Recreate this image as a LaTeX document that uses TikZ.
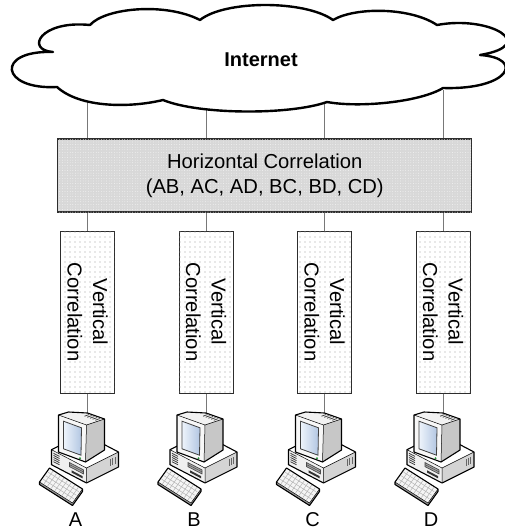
\documentclass[tikz,border=0pt]{standalone}
\usepackage{fontspec}
\setmainfont{Liberation Sans}
\usetikzlibrary{patterns.meta,calc}

\definecolor{wire}{RGB}{120,120,120}
\definecolor{boxline}{RGB}{45,45,45}
\definecolor{hfill}{RGB}{216,216,216}
\definecolor{scrA}{RGB}{238,244,251}
\definecolor{scrB}{RGB}{178,198,226}
\definecolor{led}{RGB}{40,150,60}

\tikzset{
  x=1pt, y=-1pt,
  wire/.style={draw=wire, line width=1pt},
  lbl/.style={font=\fontsize{20}{25}\selectfont, inner sep=0pt},
  hbox/.style={draw=boxline, line width=1.1pt, fill=hfill,
    postaction={pattern={Dots[distance=2.6pt, radius=0.45pt]}, pattern color=white!96!black},
    minimum width=414pt, minimum height=73pt, inner sep=0pt, align=center,
    font=\fontsize{20.2}{25}\selectfont},
  vbox/.style={draw=boxline, line width=1pt, fill=white,
    postaction={pattern={Dots[distance=5pt, radius=0.55pt]}, pattern color=black!38},
    rotate=-90, minimum width=162pt, minimum height=54pt, inner sep=0pt,
    align=center, font=\fontsize{20.2}{25.5}\selectfont},
  cloudline/.style={draw=black, line width=2.4pt, fill=white, line join=round},
  pcline/.style={draw=black, line width=1.1pt, line join=round},
  pcthin/.style={draw=black, line width=0.5pt},
  pc/.pic={
    % desktop case
    \fill[black!6] (-36,36.7) -- (-1,55) -- (-1,70) -- (-36,51.7) -- cycle;
    \fill[black!17] (-1,55) -- (31,39) -- (31,54) -- (-1,70) -- cycle;
    \fill[white] (-36,36.7) -- (-4,20.7) -- (31,39) -- (-1,55) -- cycle;
    \foreach \k in {0,...,4}
      \draw[black!75, line width=0.8pt] (-34,{40.3+2.1*\k}) -- (-28,{43.4+2.1*\k});
    \draw[black!70, line width=0.7pt, fill=black!35]
      (-18,49.6) -- (-4,56.9) -- (-4,60.9) -- (-18,53.6) -- cycle;
    \draw[black!70, line width=0.5pt] (-18,51.6) -- (-4,58.9);
    \fill[black!80] (-16,57.3) -- (-5,63.1) -- (-5,65.3) -- (-16,59.5) -- cycle;
    \foreach \k in {0,...,2}
      \draw[black!60, line width=0.7pt] ({23+2.2*\k},{46-1.1*\k}) -- ({23+2.2*\k},{53-1.1*\k});
    \draw[pcthin] (-36,36.7) -- (-1,55) -- (31,39) (-1,55) -- (-1,70);
    \draw[pcline] (-36,36.7) -- (-4,20.7) -- (31,39) -- (31,54) -- (-1,70) -- (-36,51.7) -- cycle;
    % monitor
    \fill[black!22] (-1,12) -- (17,6) -- (17,37) -- (-2,49) -- cycle;
    \fill[black!5] (-29,2) -- (-19,-1) -- (0,0) -- (17,6) -- (-1,12) -- cycle;
    \fill[black!3] (-29,2) -- (-1,12) -- (-2,49) -- (-29,39) -- cycle;
    \shade[left color=scrA, right color=scrB, draw=black!75, line width=0.8pt]
      (-24,8.2) -- (-6,14.8) -- (-6.5,42.2) -- (-24,35.8) -- cycle;
    \foreach \k in {0,...,4}
      \draw[black!75, line width=0.8pt] ({1.5+2.7*\k},{1.6+1*\k}) -- ({-3+2.7*\k},{3.2+1*\k});
    \fill[led] (-7.5,45.3) circle (1.1pt);
    \draw[pcthin] (-29,2) -- (-1,12) -- (-2,49) (-1,12) -- (17,6);
    \draw[pcline] (-29,2) -- (-19,-1) -- (0,0) -- (17,6) -- (17,37) -- (-2,49) -- (-29,39) -- cycle;
    % keyboard
    \fill[black!40] (-48,69) -- (-15,90) -- (-5,76) -- (-5,78.5) -- (-15,92.5) -- (-48,71.5) -- cycle;
    \fill[black!4] (-48,69) -- (-38,55) -- (-5,76) -- (-15,90) -- cycle;
    \foreach \t in {0.25,0.5,0.75}
      \draw[black!30, line width=0.5pt]
        ({-48+10*\t+33*0.04},{69-14*\t+21*0.04}) -- ({-48+10*\t+33*0.96},{69-14*\t+21*0.96});
    \foreach \s in {0.12,0.23,0.34,0.45,0.56,0.67,0.78,0.89}
      \draw[black!30, line width=0.5pt]
        ({-48+33*\s+10*0.06},{69+21*\s-14*0.06}) -- ({-48+33*\s+10*0.94},{69+21*\s-14*0.94});
    \draw[pcthin] (-48,69) -- (-15,90) -- (-5,76);
    \draw[pcline] (-48,69) -- (-38,55) -- (-5,76) -- (-5,78.5) -- (-15,92.5) -- (-48,71.5) -- cycle;
  }
}

\begin{document}
\begin{tikzpicture}
\useasboundingbox (0,0) rectangle (505,532);

% correlation layers
\node[hbox] (hc) at (264.75,175.5) {Horizontal Correlation\\(AB, AC, AD, BC, BD, CD)};
\foreach \n/\x in {A/87.5,B/206,C/324.5,D/443}{
  \node[vbox] (v\n) at (\x,312) {Vertical\\Correlation};
  \coordinate (net\n) at (\x,90);
  \coordinate (pc\n) at (\x,413);
}

% links up to the cloud, down to the hosts
\foreach \n in {A,B,C,D}{
  \draw[wire] (net\n) -- (net\n |- hc.north);
  \draw[wire] (v\n.west) -- (v\n.west |- hc.south);
  \draw[wire] (v\n.east) -- (pc\n);
}

% Internet cloud
\begin{scope}
  \clip (0,0) rectangle (505,532);
  \path[cloudline] (53,52)
    .. controls (25,50) and (40,20) .. (90,25)
    .. controls (105,8) and (165,2) .. (200,20)
    .. controls (225,0) and (305,0) .. (333,20)
    .. controls (355,7) and (410,7) .. (437,25)
    .. controls (490,15) and (540,45) .. (480,55)
    .. controls (525,58) and (510,90) .. (443,88)
    .. controls (420,102) and (360,108) .. (327,102)
    .. controls (290,115) and (200,115) .. (163,100)
    .. controls (130,108) and (80,108) .. (57,87)
    .. controls (0,90) and (-5,50) .. (53,52) -- cycle;
\end{scope}
\node[font=\fontsize{20}{24}\selectfont\bfseries, inner sep=0pt] (net) at (261,60) {Internet};

% hosts
\foreach \n in {A,B,C,D}{
  \pic at (pc\n) {pc};
  \node[lbl] (lab\n) at ($(pc\n)+(-12,107)$) {\n};
}
\end{tikzpicture}
\end{document}
